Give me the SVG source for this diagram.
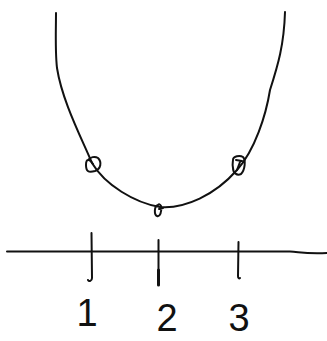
<svg xmlns="http://www.w3.org/2000/svg" width="327" height="341" viewBox="0 0 327 341">
<style>
.ink{fill:none;stroke:#111;stroke-width:2;stroke-linecap:round;stroke-linejoin:round}
.lbl{font-family:"Liberation Sans",Arial,sans-serif;font-size:38px;fill:#111;text-anchor:middle}
</style>
<rect width="327" height="341" fill="#fff"/>
<g id="curve">
<path class="ink" d="M56,13 C56,30 55,50 57,68 C62,100 80,135 92,163 C105,185 135,203 160,207 C185,209 215,195 237,170 C255,150 266,115 270,90 C278,65 284,45 285,12"/>
</g>
<g id="point1">
<path class="ink" d="M93,164 C89,158 86,159 86,165 C86,171 88,173 95,171 C101,169 102,162 98,158 C95,156 90,157 88,160"/>
</g>
<g id="point2">
<path class="ink" d="M158,205 C154,206 154,215 157,216 C160,217 162,212 161,206 C160,204 159,204 158,205 M159,209 L163,208"/>
</g>
<g id="point3">
<path class="ink" d="M233,160 C233,156 240,155 243,157 C246,160 245,170 241,174 C237,176 233,173 233,168 C232,164 233,162 233,160 M236,160 L242,161 M240,162 L237,170"/>
</g>
<g id="connectors">
<path class="ink" d="M7,251.5 L290,251.5 C300,252 305,254 327,253"/>
<path class="ink" d="M91.5,233 L92,278 C92,281 89,282 88,280"/>
<path class="ink" d="M158.5,240 L158.5,285"/>
<path class="ink" d="M158.5,270 L158.5,285" style="stroke-width:3"/>
<path class="ink" d="M238.5,242 L238,276 C238,278 239,279 240,278"/>
</g>
<g id="labels">
<text class="lbl" x="87" y="326">1</text>
<text class="lbl" x="167" y="331">2</text>
<text class="lbl" x="239" y="331">3</text>
</g>
</svg>
